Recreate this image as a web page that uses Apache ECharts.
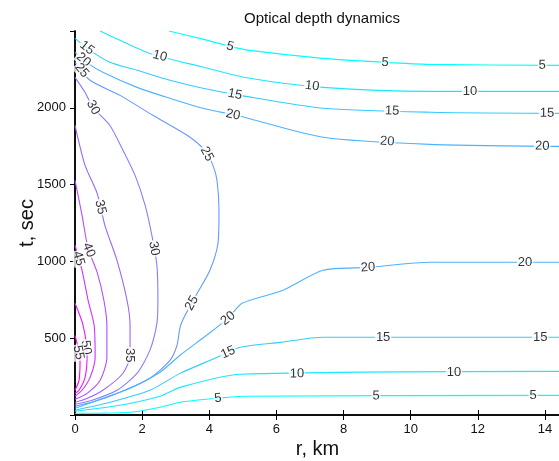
<!DOCTYPE html>
<html><head><meta charset="utf-8">
<script src="https://cdn.jsdelivr.net/npm/echarts@6/dist/echarts.min.js"></script>
<style>html,body{margin:0;padding:0;background:#fff}#c{width:559px;height:461px}</style>
</head><body><div id="c"></div>
<script>
// ---- data (r in km, t in sec) ----
const levels = [5,10,15,20,25,30,35,40,45,50,55];
const c5Upper  = [[2.80,2500],[3.72,2452],[4.62,2400],[5.21,2374],[7.39,2322],[9.24,2296],[10.58,2283],[14.45,2276]];
const c10Upper = [[0.75,2500],[1.34,2439],[2.23,2354],[3.72,2270],[5.21,2192],[7.39,2133],[10.58,2107],[14.45,2107]];
const c15Upper = [[0.00,2452],[0.45,2374],[1.04,2296],[1.85,2244],[2.83,2179],[3.81,2127],[4.92,2081],[7.39,1997],[10.58,1971],[14.45,1964]];
const c20Upper = [[0.00,2361],[0.39,2289],[0.83,2231],[1.85,2133],[2.83,2062],[3.81,1997],[4.92,1945],[7.39,1808],[10.58,1762],[14.45,1749]];
const c25 = [[0.00,2296],[0.45,2179],[1.34,2081],[2.32,1951],[3.34,1821],[3.87,1723],[4.11,1625],[4.23,1528],[4.29,1333],[4.26,1118],[4.02,942],[3.64,792],[3.28,649],[3.13,571],[3.04,454],[2.83,356],[2.23,239],[1.34,148],[0.60,89],[0.00,57]];
const c30 = [[0.00,2198],[0.30,2100],[0.54,2002],[1.04,1885],[1.43,1723],[1.79,1560],[2.09,1365],[2.29,1170],[2.44,975],[2.47,747],[2.44,597],[2.23,421],[1.85,272],[1.25,161],[0.51,96],[0.00,70]];
const c35 = [[0.00,1886],[0.30,1625],[0.66,1443],[0.89,1235],[1.25,1007],[1.55,747],[1.64,584],[1.64,389],[1.43,272],[0.83,161],[0.30,102],[0.00,83]];
const c40 = [[0.00,1528],[0.21,1300],[0.39,1085],[0.66,928],[0.86,747],[0.95,584],[0.95,376],[0.75,226],[0.36,141],[0.00,102]];
const c45 = [[0.00,1105],[0.21,942],[0.39,747],[0.57,584],[0.60,376],[0.45,245],[0.21,161],[0.00,122]];
const c50 = [[0.00,727],[0.24,584],[0.36,389],[0.30,245],[0.12,161],[0.00,141]];
const c55 = [[0.00,519],[0.15,356],[0.12,226],[0.00,161]];
const c20Lower = [[0.00,44],[0.75,102],[1.64,174],[2.53,278],[3.13,389],[3.87,511],[4.56,629],[4.98,727],[6.20,812],[7.39,942],[8.73,961],[10.58,994],[14.45,994]];
const c15Lower = [[0.00,31],[1.04,83],[2.23,161],[3.13,271],[4.17,369],[4.92,441],[6.11,473],[7.39,506],[14.45,506]];
const c10Lower = [[0.00,24],[1.34,63],[2.53,122],[3.13,180],[4.92,265],[14.45,284]];
const c5Lower  = [[0.00,11],[1.64,18],[2.53,50],[3.13,83],[4.26,109],[5.00,122],[14.45,128]];
// label spots: [level, r, t]
const labelSpots = [
 [5,4.62,2400],[5,9.24,2296],[5,13.92,2276],
 [10,2.53,2341],[10,7.06,2133],[10,11.77,2107],
 [15,0.39,2400],[15,4.77,2094],[15,9.45,1977],[15,14.06,1964],
 [20,0.24,2309],[20,4.71,1958],[20,9.30,1775],[20,13.92,1749],
 [25,0.21,2244],[25,3.96,1703],[25,3.49,727],
 [30,0.54,2002],[30,2.38,1085],
 [35,0.74,1352],[35,1.64,389],
 [40,0.39,1072],[45,0.12,1020],[50,0.39,441],[55,0.15,408],
 [20,4.56,629],[20,8.73,961],[20,13.41,994],
 [15,4.56,408],[15,9.18,506],[15,13.86,506],
 [10,6.61,278],[10,11.29,291],
 [5,4.26,109],[5,8.97,122],[5,13.65,122]
];
const contourLines = [
 {level:5,pts:c5Upper},{level:10,pts:c10Upper},{level:15,pts:c15Upper},{level:20,pts:c20Upper},
 {level:25,pts:c25},{level:30,pts:c30},{level:35,pts:c35},{level:40,pts:c40},
 {level:45,pts:c45},{level:50,pts:c50},{level:55,pts:c55},
 {level:20,pts:c20Lower},{level:15,pts:c15Lower},{level:10,pts:c10Lower},{level:5,pts:c5Lower}
];
// ---- chart ----
function coolColor(lv){
  const f=(lv-levels[0])/(levels[levels.length-1]-levels[0]);
  return 'rgb('+Math.round(255*f)+','+Math.round(255*(1-f))+',255)';
}
const FONT='"Liberation Sans", Arial, sans-serif';
const chart=echarts.init(document.getElementById('c'),null,{renderer:'canvas'});
const lineSeries=contourLines.map(l=>({
  type:'line',data:l.pts,showSymbol:false,symbol:'none',smooth:0.25,clip:true,
  lineStyle:{color:coolColor(l.level),width:1.1},silent:true,z:2
}));
const axisCommon={splitLine:{show:false},axisLine:{lineStyle:{color:'#000',width:1.5}}};
const plain=v=>String(v);
chart.setOption({
  animation:false,
  title:{text:'Optical depth dynamics',left:317,top:6,textAlign:'center',
    textStyle:{fontFamily:FONT,fontSize:15,fontWeight:'normal',color:'#111'}},
  grid:{left:75,right:-1,top:31,bottom:46,containLabel:false,outerBoundsMode:'none'},
  xAxis:[
    Object.assign({type:'value',min:0,max:14.45,interval:2,position:'bottom',
      name:'r, km',nameLocation:'middle',nameGap:24,nameMoveOverlap:false,
      nameTextStyle:{fontFamily:FONT,fontSize:20,color:'#111'},
      axisTick:{inside:true,length:5,lineStyle:{color:'#000'}},
      axisLabel:{fontFamily:FONT,fontSize:13,color:'#111',margin:8,showMaxLabel:false,formatter:plain}},axisCommon),
    Object.assign({type:'value',min:0,max:14.45,interval:2,position:'top',
      axisTick:{inside:true,length:5,lineStyle:{color:'#000'}},axisLabel:{show:false}},axisCommon)
  ],
  yAxis:[
    Object.assign({type:'value',min:0,max:2500,interval:500,position:'left',
      name:'t, sec',nameLocation:'middle',nameGap:38,nameRotate:90,nameMoveOverlap:false,
      nameTextStyle:{fontFamily:FONT,fontSize:20,color:'#111'},
      axisTick:{inside:false,length:3,lineStyle:{color:'#000'}},
      axisLabel:{fontFamily:FONT,fontSize:13,color:'#111',margin:9,showMinLabel:false,showMaxLabel:false,formatter:plain}},axisCommon),
    Object.assign({type:'value',min:0,max:2500,interval:500,position:'right',
      axisTick:{inside:true,length:5,lineStyle:{color:'#000'}},axisLabel:{show:false}},axisCommon)
  ],
  series:lineSeries.concat([{id:'labels',type:'scatter',data:[],symbolSize:0,z:5,silent:true}])
});
// place contour labels on lines
const items=[];
labelSpots.forEach(([lv,r,t])=>{
  const p=chart.convertToPixel({gridIndex:0},[r,t]);
  let best=null;
  contourLines.filter(l=>l.level===lv).forEach(l=>{
    const px=l.pts.map(q=>chart.convertToPixel({gridIndex:0},q));
    for(let i=0;i<px.length-1;i++){
      const a=px[i],b=px[i+1],dx=b[0]-a[0],dy=b[1]-a[1],L2=dx*dx+dy*dy;
      if(!L2)continue;
      let u=((p[0]-a[0])*dx+(p[1]-a[1])*dy)/L2;u=Math.max(0,Math.min(1,u));
      const qx=a[0]+u*dx,qy=a[1]+u*dy,d=(qx-p[0])**2+(qy-p[1])**2;
      if(!best||d<best.d)best={d,qx,qy,ang:Math.atan2(-dy,dx)*180/Math.PI};
    }
  });
  let ang=best.ang;if(ang>90)ang-=180;if(ang<-90)ang+=180;
  items.push({value:chart.convertFromPixel({gridIndex:0},[best.qx,best.qy]),
    label:{show:true,position:'inside',rotate:ang,formatter:String(lv),
      fontFamily:FONT,fontSize:13,color:'#000',backgroundColor:'#fff',padding:[0,1]}});
});
chart.setOption({series:[{id:'labels',data:items}]});
</script></body></html>
